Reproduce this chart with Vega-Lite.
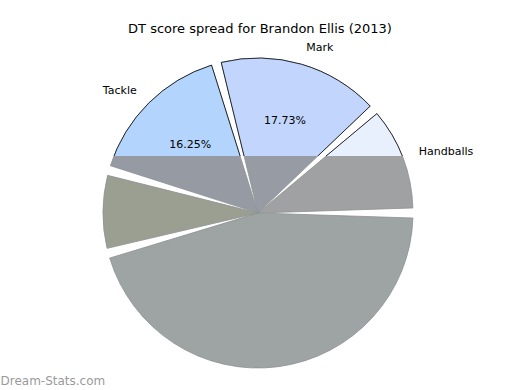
{
  "$schema": "https://vega.github.io/schema/vega-lite/v6.json",
  "autosize": {"type": "none"},
  "width": 520,
  "height": 120,
  "padding": {"left": 0, "top": 36, "right": 0, "bottom": 234},
  "background": "white",
  "config": {"view": {"stroke": null}, "font": "DejaVu Sans"},
  "title": {"text": "DT score spread for Brandon Ellis (2013)", "font": "DejaVu Sans", "fontSize": 13, "fontWeight": "normal", "color": "#000", "offset": 0, "anchor": "middle"},
  "data": {"values": [
    {"cat": "Kicks", "value": 45.82, "idx": 1, "label": "", "pct": ""},
    {"cat": "Goals", "value": 8.6, "idx": 2, "label": "", "pct": ""},
    {"cat": "Tackle", "value": 16.25, "idx": 3, "label": "Tackle", "pct": "16.25%"},
    {"cat": "Mark", "value": 17.73, "idx": 4, "label": "Mark", "pct": "17.73%"},
    {"cat": "Handballs", "value": 11.6, "idx": 5, "label": "Handballs", "pct": ""}
  ]},
  "encoding": {
    "theta": {"field": "value", "type": "quantitative", "stack": true, "scale": {"range": [1.5708, 7.854]}},
    "order": {"field": "idx", "type": "quantitative"},
    "x": {"datum": 0, "type": "quantitative", "scale": {"domain": [-258, 262], "zero": false, "nice": false},
      "axis": {"title": "Dream-Stats.com", "orient": "bottom", "domain": false, "ticks": false, "labels": false, "grid": false,
        "titleAnchor": "start", "titleAlign": "left", "titleX": 0, "titleY": 224, "titleBaseline": "middle",
        "titleColor": "#9a9a9a", "titleFont": "DejaVu Sans", "titleFontSize": 12, "titleFontWeight": "normal"}},
    "y": {"datum": 0, "type": "quantitative", "scale": {"domain": [57, 177], "zero": false, "nice": false}, "axis": null}
  },
  "layer": [
    {
      "mark": {"type": "arc", "radius": 155, "padAngle": 0.065, "stroke": "#8c9090", "strokeWidth": 0.8},
      "encoding": {
        "color": {"field": "cat", "type": "nominal", "legend": null,
          "scale": {"domain": ["Kicks", "Goals", "Tackle", "Mark", "Handballs"], "range": ["#9ea3a3", "#9b9f92", "#959aa3", "#979ba3", "#a0a1a2"]}}
      }
    },
    {
      "mark": {"type": "arc", "radius": 155, "padAngle": 0.065, "stroke": "#000", "strokeWidth": 0.8, "clip": true},
      "encoding": {
        "color": {"field": "cat", "type": "nominal", "legend": null,
          "scale": {"domain": ["Kicks", "Goals", "Tackle", "Mark", "Handballs"], "range": ["#dfe4e4", "#dfe6cc", "#b3d5fd", "#c2d6fd", "#e8f0fe"]}}
      }
    },
    {
      "mark": {"type": "text", "radius": 172, "align": "left", "baseline": "middle", "fontSize": 11, "font": "DejaVu Sans", "color": "#000"},
      "encoding": {
        "text": {"condition": {"test": "datum.cat === 'Mark' || datum.cat === 'Handballs'", "field": "label"}, "value": ""}
      }
    },
    {
      "mark": {"type": "text", "radius": 172, "align": "right", "baseline": "middle", "fontSize": 11, "font": "DejaVu Sans", "color": "#000"},
      "encoding": {
        "text": {"condition": {"test": "datum.cat === 'Tackle'", "field": "label"}, "value": ""}
      }
    },
    {
      "mark": {"type": "text", "radius": 96, "align": "center", "baseline": "middle", "fontSize": 11, "font": "DejaVu Sans", "color": "#000"},
      "encoding": {
        "text": {"field": "pct", "type": "nominal"}
      }
    }
  ],
  "resolve": {"scale": {"color": "independent"}}
}
